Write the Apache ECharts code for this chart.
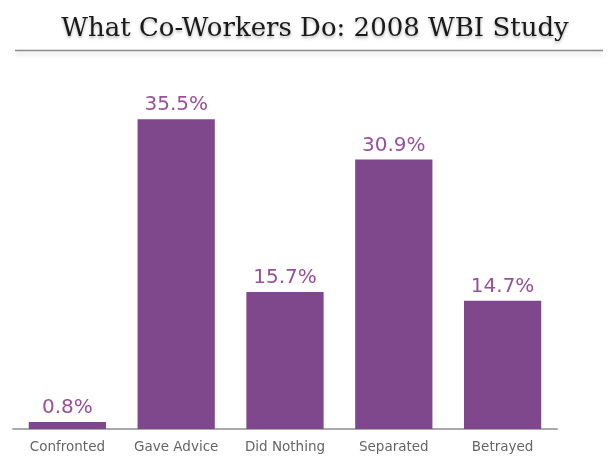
<!DOCTYPE html>
<html><head><meta charset="utf-8">
<script src="https://cdn.jsdelivr.net/npm/echarts@6/dist/echarts.min.js"></script>
<style>html,body{margin:0;padding:0;background:#fff}#c{width:612px;height:457px}</style>
</head><body><div id="c"></div>
<script>
const categories = ['Confronted','Gave Advice','Did Nothing','Separated','Betrayed'];
const values = [0.8, 35.5, 15.7, 30.9, 14.7];
const titleText = 'What Co-Workers Do: 2008 WBI Study';

const chart = echarts.init(document.getElementById('c'));
chart.setOption({
  backgroundColor: '#fff',
  animation: false,
  title: {
    text: titleText, left: 310, top: 11, textAlign: 'center',
    textStyle: { fontFamily: 'DejaVu Serif', fontWeight: 'normal', fontSize: 26, color: '#1a1a1a',
      textShadowColor: 'rgba(0,0,0,0.3)', textShadowBlur: 3, textShadowOffsetY: 2 }
  },
  graphic: [{
    type: 'line', shape: { x1: 15, y1: 50.5, x2: 603, y2: 50.5 },
    style: { stroke: '#8a8a8a', lineWidth: 1.5, shadowColor: 'rgba(0,0,0,0.2)', shadowBlur: 5, shadowOffsetY: 3 }
  }],
  grid: { left: 13, right: 55, top: 80, bottom: 28, containLabel: false },
  xAxis: {
    type: 'category', data: categories,
    axisLine: { lineStyle: { color: '#aaa', width: 2 } },
    axisTick: { show: false },
    axisLabel: { interval: 0, hideOverlap: false, color: '#666', fontFamily: 'DejaVu Sans', fontSize: 13.5, margin: 11 }
  },
  yAxis: { type: 'value', min: 0, max: 40, show: false, splitLine: { show: false } },
  series: [{
    type: 'bar', data: values, barCategoryGap: '29%',
    itemStyle: { color: '#80488c' },
    label: { show: true, position: 'top', distance: 4, formatter: p => p.value.toFixed(1) + '%',
      color: '#9a4f9c', fontFamily: 'DejaVu Sans', fontSize: 20 }
  }]
});
</script></body></html>
